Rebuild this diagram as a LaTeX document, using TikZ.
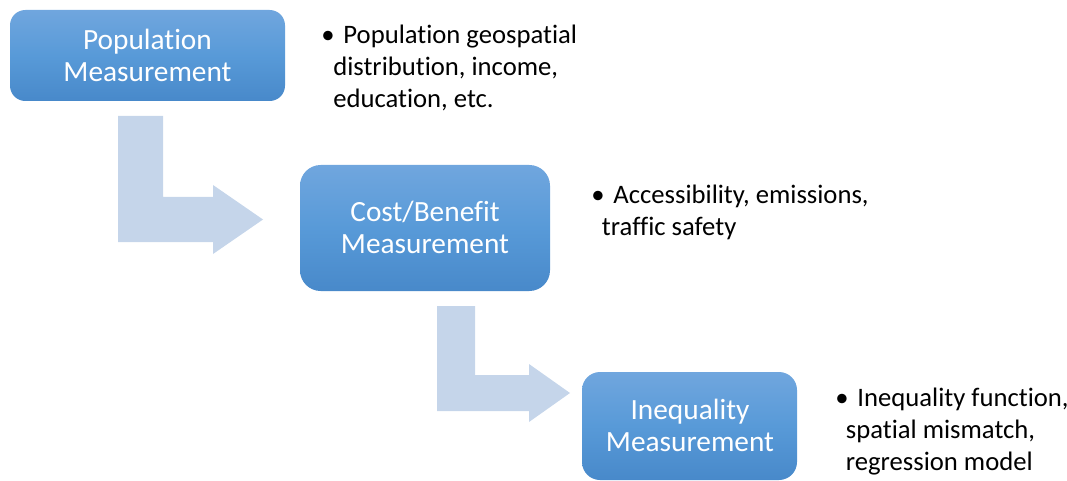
\documentclass[tikz,border=0pt]{standalone}
\usepackage{fontspec}
\setmainfont{Carlito}[Ligatures={NoCommon}]
\usetikzlibrary{positioning}
\definecolor{boxtop}{RGB}{112,166,222}
\definecolor{boxmid}{RGB}{88,154,216}
\definecolor{boxbot}{RGB}{72,137,202}
\definecolor{arrowfill}{RGB}{197,213,234}
\tikzset{
  stagebox/.style={rounded corners=#1, top color=boxtop, bottom color=boxbot, middle color=boxmid,
    draw=none},
  stagetext/.style={text=white, align=center, inner sep=0pt,
    font=\fontsize{22}{24}\selectfont},
  bullettext/.style={anchor=north west, align=left, inner sep=0pt, text=black,
    font=\fontsize{20}{24}\selectfont},
  bentarrow/.style={fill=arrowfill, draw=none}
}
\begin{document}
\begin{tikzpicture}[x=0.75pt,y=-0.75pt]
\useasboundingbox (0,0) rectangle (1067,481);
% bent arrows
\draw[bentarrow] (118,116) -- (163,116) -- (163,197) -- (213,197) -- (213,185) -- (263,219.5) -- (213,254) -- (213,242) -- (118,242) -- cycle;
\draw[bentarrow] (437,306) -- (475,306) -- (475,375) -- (529,375) -- (529,364) -- (570,393) -- (529,422) -- (529,411) -- (437,411) -- cycle;
% boxes
\path[stagebox=11.5pt] (10,10) rectangle (285,101);
\node[stagetext] (pop) at (147.5,55.5) {Population\\Measurement};
\path[stagebox=15.5pt] (300,165) rectangle (550,291);
\node[stagetext] (cost) at (425,227) {Cost/Benefit\\Measurement};
\path[stagebox=13.5pt] (582,372) rectangle (797,480);
\node[stagetext] (ineq) at (690,425) {Inequality\\Measurement};
% bullet texts
\node[bullettext] (popt) at (321,25) {•\,\,Population geospatial\\\hspace*{9pt}distribution, income,\\\hspace*{9pt}education, etc.};
\node[bullettext] (costt) at (591,185) {•\,\,Accessibility, emissions,\\\hspace*{8pt}traffic safety};
\node[bullettext] (ineqt) at (835,388) {•\,\,Inequality function,\\\hspace*{8pt}spatial mismatch,\\\hspace*{8pt}regression model};
\end{tikzpicture}
\end{document}
